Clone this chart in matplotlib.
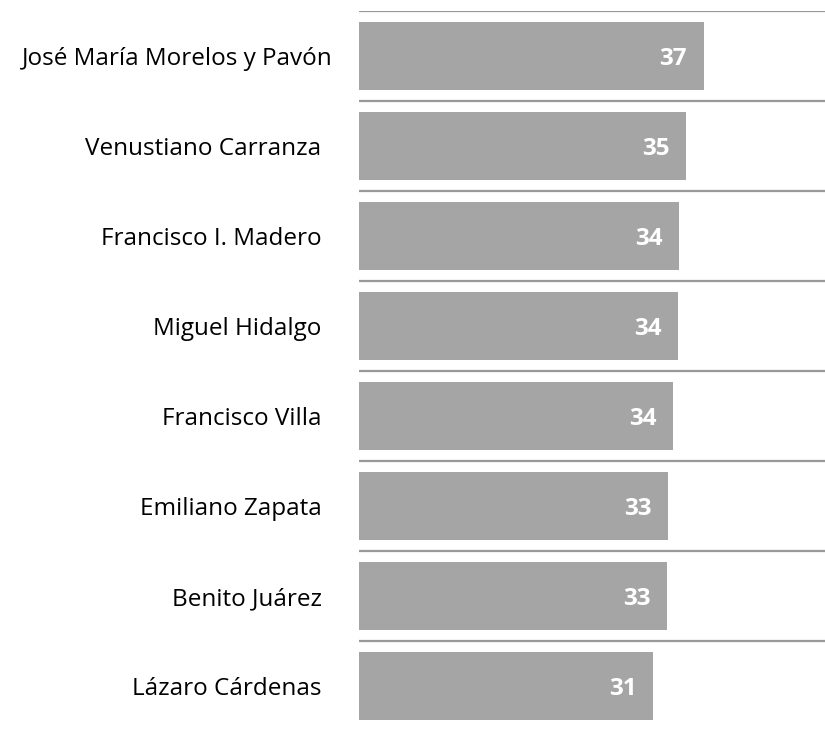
import matplotlib
matplotlib.use('Agg')
import matplotlib.pyplot as plt
import matplotlib.transforms as mtrans

# 数据
names = ["José María Morelos y Pavón", "Venustiano Carranza", "Francisco I. Madero",
         "Miguel Hidalgo", "Francisco Villa", "Emiliano Zapata", "Benito Juárez",
         "Lázaro Cárdenas"]
values = [36.8, 34.9, 34.2, 34.1, 33.5, 33.0, 32.9, 31.4]

plt.rcParams['font.family'] = ['Open Sans', 'DejaVu Sans']

fig = plt.figure(figsize=(8.25, 7.31), dpi=100)
ax = fig.add_axes([359 / 825, 0.0, 1 - 359 / 825, 1 - 11 / 731])

y = list(range(len(names)))
ax.barh(y, values, height=0.762, color='#a5a5a5', zorder=2)

# 分隔线
for i in y:
    ax.axhline(i - 0.5, color='#999999', lw=1.6, zorder=1)

# 数值标签
for i, v in zip(y, values):
    ax.annotate(f"{v:.0f}", xy=(v, i), xytext=(-12, 0), textcoords='offset points',
                ha='right', va='center_baseline', color='white', fontsize=17.5,
                fontweight='bold')

ax.set_xlim(0, 466 / 9.367)
ax.set_ylim(len(names) - 0.5, -0.5)
ax.set_yticks(y)
ax.set_yticklabels(names, fontsize=17.5, va='center_baseline')
ax.tick_params(axis='y', length=0, pad=27)
ax.set_xticks([])
for s in ax.spines.values():
    s.set_visible(False)

# 最长的标签在原图中略靠右
lab = ax.get_yticklabels()[0]
lab.set_transform(lab.get_transform() + mtrans.ScaledTranslation(0.11, 0, fig.dpi_scale_trans))

fig.savefig('out.png', dpi=100)
